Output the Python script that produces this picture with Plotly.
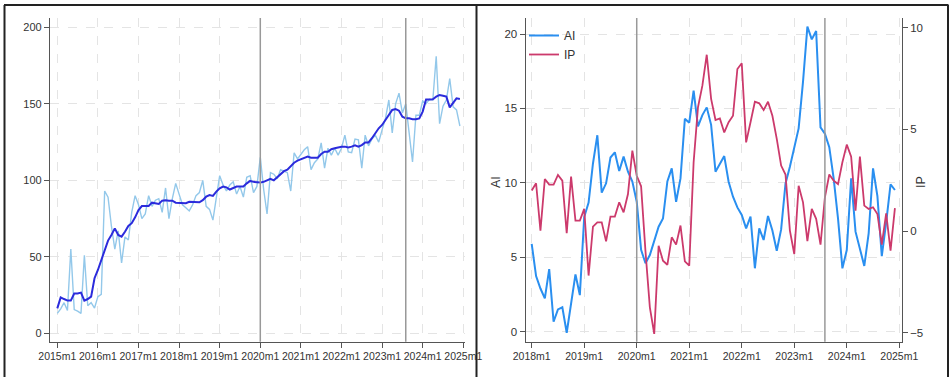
import plotly.graph_objects as go

W, H = 950, 377

# ---------------- data ----------------
left_ticks = ["2015m1", "2016m1", "2017m1", "2018m1", "2019m1", "2020m1",
              "2021m1", "2022m1", "2023m1", "2024m1", "2025m1"]
right_ticks = ["2018m1", "2019m1", "2020m1", "2021m1", "2022m1", "2023m1",
               "2024m1", "2025m1"]

left_raw = [13, 16, 20, 15, 55, 15.5, 14.5, 13, 51, 18, 20, 16.5,
            24, 25.5, 93, 89, 70, 55, 67, 46, 63, 61, 79, 90,
            84, 75, 78, 90, 83, 87, 88, 79, 95, 75, 88, 98,
            91, 84, 82, 80, 84, 90, 92, 100, 83, 81, 74, 89,
            103, 97, 93, 97, 99, 91, 96, 89, 102, 103, 92, 96,
            115, 94, 78, 105, 104, 101, 107, 106, 105, 93, 118, 114,
            117, 120, 122, 107, 111.5, 114, 124.5, 108, 121, 116.5, 121, 116.5,
            121, 129.5, 118.5, 118, 127, 126.5, 108, 129.5, 122.5, 127, 129.5, 125,
            133, 140.5, 152.5, 131, 150, 157, 144, 150, 131, 112, 142.5, 142.5,
            152, 150, 153, 152.5, 181, 137, 148.5, 152.5, 166.5, 148, 146, 135.5]

left_ma = [16.3, 23.5, 22.4, 21.4, 21.4, 26, 26, 26.6, 21.4, 22.4, 24, 36,
           41.4, 48, 54.5, 60.6, 64.3, 68.6, 64.3, 63.2, 66.4, 70.2, 72, 75.8,
           80.6, 83.2, 83.2, 83.2, 85.4, 85, 84.5, 86.7, 87, 86.7, 86.7, 85.4,
           85.4, 85.4, 85, 86, 86, 86, 85.6, 87, 89.3, 90.4, 89.8, 92.6,
           94.8, 95.9, 95.4, 94, 94.8, 95.9, 95.9, 95.9, 98, 99.6, 99, 98.5,
           98.5, 99, 100, 101, 100, 102, 104.6, 106, 107, 109.4, 111.5, 112.9,
           113.7, 114.4, 115.5, 114.8, 115, 114.8, 117.2, 118.7, 118.7, 120.3, 121, 121.6,
           122, 122, 121.4, 122, 122.9, 122, 123, 124.8, 124.8, 127.5, 130.7, 134,
           136.2, 139.4, 142.7, 146, 146.6, 145.5, 141.6, 140.5, 140.5, 139.9, 139.9, 140.5,
           144.9, 152.9, 152.9, 153, 154.7, 155.8, 155.3, 154.7, 147.7, 150.3, 153.6, 153.2]

ai = [5.9, 3.74, 2.9, 2.24, 4.2, 0.67, 1.5, 1.64, -0.07, 1.9, 3.85, 2.46,
      7.7, 8.67, 11.3, 13.2, 9.34, 9.97, 11.7, 12.05, 10.8, 11.76, 10.75, 10.08,
      8.73, 5.5, 4.6, 5.15, 6.16, 7.05, 7.6, 10.1, 10.97, 8.73, 10.3, 14.3,
      14.04, 16.2, 13.8, 14.55, 15.07, 13.9, 10.75, 11.3, 11.8, 10.08, 9.07, 8.35,
      7.84, 6.94, 7.73, 4.26, 6.94, 6.16, 7.77, 6.8, 5.44, 6.87, 9.96, 11.08,
      12.3, 13.66, 16.8, 20.5, 19.64, 20.2, 13.73, 13.3, 12.4, 10.3, 7.6, 4.26,
      5.49, 10.3, 6.72, 5.49, 4.42, 6.6, 10.97, 9.11, 5.08, 7.32, 9.9, 9.52]

ip = [1.99, 2.35, 0.02, 2.56, 2.28, 2.28, 2.76, 2.48, -0.11, 2.68, 0.51, 0.51,
      1.09, -2.19, 0.22, 0.43, 0.43, -0.51, 0.71, 0.71, 1.41, 0.92, 1.82, 3.95,
      2.72, 2.2, -1.0, -3.75, -5.06, -0.72, -1.46, -1.66, -0.31, -0.67, 0.27, -1.49,
      -1.7, 3.38, 6.09, 7.15, 8.67, 6.5, 5.46, 5.54, 4.85, 5.35, 5.67, 7.97,
      8.25, 4.36, 5.35, 6.36, 6.28, 5.95, 6.36, 5.67, 4.53, 3.22, 2.78, 0.02,
      -1.13, 2.23, 1.41, -0.5, 1.09, 0.6, -0.67, 1.66, 2.78, 2.48, 2.31, 3.38,
      4.25, 3.66, 1.0, 3.66, 1.25, 1.09, 1.17, 0.84, -0.67, 0.87, -0.96, 1.13]

left_events = [60, 103]   # 2020m1, 2023m8 (months since 2015m1)
right_events = [24, 67]   # 2020m1, 2023m8 (months since 2018m1)

# ---------------- figure ----------------
xl = list(range(len(left_raw)))
xr = list(range(len(ai)))

NARROW = "Liberation Sans Narrow, Arial Narrow, Liberation Sans, Arial, sans-serif"
REG = "Liberation Sans, Arial, sans-serif"

fig = go.Figure()
fig.add_trace(go.Scatter(x=xl, y=left_raw, mode="lines", line=dict(color="#93c8ea", width=1.4),
                         showlegend=False, xaxis="x", yaxis="y"))
fig.add_trace(go.Scatter(x=xl, y=left_ma, mode="lines", line=dict(color="#2b2bdc", width=2),
                         showlegend=False, xaxis="x", yaxis="y"))
fig.add_trace(go.Scatter(x=xr, y=ai, mode="lines", name="AI", line=dict(color="#2a8ff0", width=2),
                         xaxis="x2", yaxis="y2"))
fig.add_trace(go.Scatter(x=xr, y=ip, mode="lines", name="IP", line=dict(color="#cc3a6c", width=1.8),
                         xaxis="x2", yaxis="y3"))

def px(x):
    return x / W

def py(y):
    return 1 - y / H

ydom = [py(341.7), py(18)]
axis_common = dict(showline=True, linecolor="#555", linewidth=1.3, ticks="outside", ticklen=5,
                   tickcolor="#555", tickwidth=1.2, zeroline=False, automargin=False,
                   gridcolor="#e4e4e4", griddash="dash", gridwidth=1)

fig.update_layout(
    width=W, height=H, margin=dict(l=0, r=0, t=0, b=0),
    paper_bgcolor="white", plot_bgcolor="white",
    xaxis=dict(domain=[px(50), px(465)], range=[-2.158, 120.51], anchor="y",
               tickvals=[12 * i for i in range(len(left_ticks))], ticktext=left_ticks,
               tickfont=dict(family=NARROW, size=10.5, color="#333"), showgrid=True, **axis_common),
    yaxis=dict(domain=ydom, range=[-5.49, 206.1], anchor="x",
               tickvals=[0, 50, 100, 150, 200],
               tickfont=dict(family=REG, size=11, color="#333"), showgrid=True, **axis_common),
    xaxis2=dict(domain=[px(525.7), px(901.7)], range=[-1.371, 84.55], anchor="y2",
                tickvals=[12 * i for i in range(len(right_ticks))], ticktext=right_ticks,
                tickfont=dict(family=NARROW, size=10.5, color="#333"), showgrid=True, **axis_common),
    yaxis2=dict(domain=ydom, range=[-0.672, 21.075], anchor="x2",
                tickvals=[0, 5, 10, 15, 20],
                tickfont=dict(family=NARROW, size=11.5, color="#333"), showgrid=True, **axis_common),
    yaxis3=dict(range=[-5.443, 10.477], overlaying="y2", side="right", anchor="x2",
                tickvals=[-5, 0, 5, 10],
                tickfont=dict(family=NARROW, size=11.5, color="#333"), showgrid=False, **axis_common),
    legend=dict(x=px(524), y=py(21), xanchor="left", yanchor="top", bgcolor="rgba(0,0,0,0)",
                font=dict(family=NARROW, size=12, color="#333"), tracegroupgap=0, itemwidth=30),
)

shapes = []
for m in left_events:
    shapes.append(dict(type="line", xref="x", yref="y domain", x0=m, x1=m, y0=0, y1=1,
                       line=dict(color="#999", width=1.5)))
for m in right_events:
    shapes.append(dict(type="line", xref="x2", yref="y2 domain", x0=m, x1=m, y0=0, y1=1,
                       line=dict(color="#999", width=1.5)))
# panel frames
frame = dict(color="#222", width=2)
shapes.append(dict(type="line", xref="paper", yref="paper", x0=px(4), x1=px(948.5), y0=py(5), y1=py(5), line=frame))
shapes.append(dict(type="line", xref="paper", yref="paper", x0=px(4.5), x1=px(4.5), y0=0, y1=py(5), line=frame))
shapes.append(dict(type="line", xref="paper", yref="paper", x0=px(476.5), x1=px(476.5), y0=0, y1=py(5), line=frame))
shapes.append(dict(type="line", xref="paper", yref="paper", x0=px(948), x1=px(948), y0=0, y1=py(5), line=frame))
fig.update_layout(shapes=shapes)

fig.add_annotation(text="AI", x=px(496), y=py(182), xref="paper", yref="paper", textangle=-90,
                   showarrow=False, font=dict(family=NARROW, size=12.5, color="#333"))
fig.add_annotation(text="IP", x=px(930), y=py(182), xref="paper", yref="paper", textangle=-90,
                   showarrow=False, font=dict(family=NARROW, size=12.5, color="#333"))

fig.write_html("out.html", config={"displayModeBar": False},
               post_script="document.body.style.margin='0';document.body.style.overflow='hidden';")
